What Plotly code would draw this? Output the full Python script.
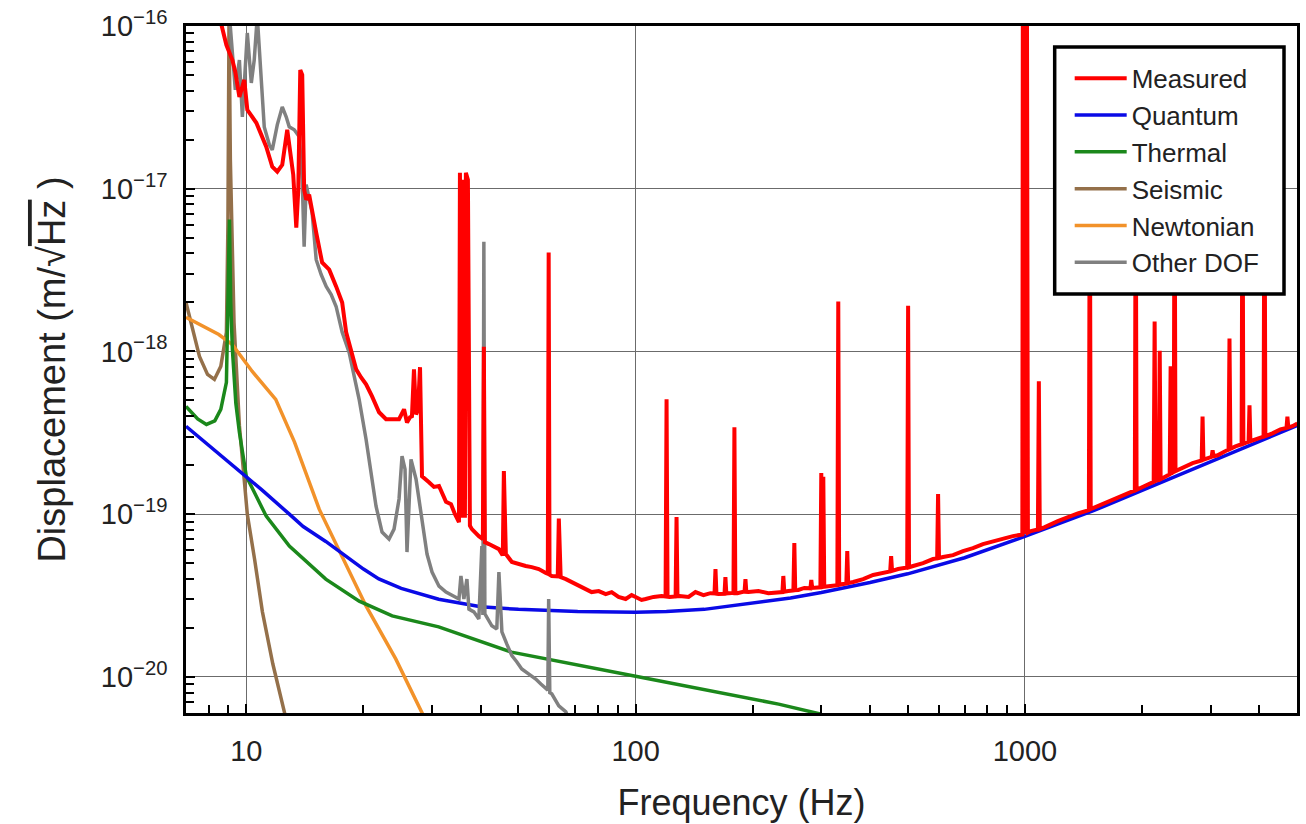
import numpy as np
import plotly.graph_objects as go

# Amplitude spectral densities are listed in units of 1e-20 m/sqrt(Hz)
UNIT = 1e-20

measured_freq = [
    8.45, 8.89, 9.21, 9.37, 9.60, 9.88, 10.06, 10.61, 11.25, 11.66, 12.01, 12.37, 12.74, 12.97, 13.20,
    13.44, 13.60, 13.76, 13.92, 14.08, 14.25, 14.50, 14.76, 15.12, 15.66, 16.33, 17.01, 17.63, 18.05,
    18.59, 19.15, 19.72, 20.31, 21.04, 21.93, 22.86, 23.68, 24.68, 25.42, 25.87, 26.33, 26.64, 26.96,
    27.29, 27.61, 27.94, 28.27, 28.94, 29.46, 30.34, 31.26, 32.58, 33.56, 34.36, 35.18, 35.38, 35.80,
    36.01, 36.44, 36.65, 37.09, 37.53, 37.97, 39.57, 40.52, 40.76, 41.00, 42.00, 43.25, 44.55, 45.35,
    45.60, 45.88, 46.15, 46.42, 48.10, 50.1, 52.2, 54.1, 56.4, 58.8, 59.5, 59.8, 60.1, 60.9, 63.1, 63.5,
    63.9, 64.2, 66.2, 68.5, 71.4, 74.4, 77.1, 80.4, 83.8, 86.8, 90.4, 94.3, 97.7, 100.0, 103.6, 106.1,
    111.2, 116.6, 119.4, 120.1, 120.8, 122.2, 126.7, 127.4, 128.1, 129.7, 136.8, 142.5, 149.4, 155.7,
    159.5, 160.4, 161.3, 163.2, 169.2, 170.1, 171.0, 173.2, 178.4, 179.4, 180.4, 182.6, 189.2, 190.5,
    191.5, 192.5, 194.9, 206.8, 219.3, 232.7, 238.3, 239.6, 240.9, 246.8, 254.3, 255.7, 257.1, 261.8,
    271.3, 281.2, 282.7, 284.2, 291.2, 298.3, 299.9, 301.7, 303.5, 305.2, 312.6, 329.8, 331.6, 333.4,
    341.5, 347.8, 349.7, 351.6, 362.2, 384.2, 407.6, 432.4, 450.8, 453.3, 455.8, 472.5, 498.5, 501.2,
    503.9, 516.2, 547.6, 580.9, 595.2, 598.4, 601.7, 616.3, 653.8, 693.4, 735.6, 780.3, 827.8, 878.2,
    931.5, 985, 988, 994, 1000, 1006, 1012, 1018, 1036, 1080, 1086, 1092, 1125, 1215, 1289, 1368,
    1460, 1468, 1476, 1539, 1662, 1784, 1916, 1926, 1936, 2031, 2142, 2154, 2166, 2208, 2220, 2232,
    2286, 2355, 2368, 2381, 2411, 2424, 2437, 2542, 2697, 2845, 2860, 2875, 2946, 3019, 3035, 3051,
    3126, 3257, 3336, 3354, 3372, 3475, 3603, 3622, 3641, 3755, 3775, 3795, 3910, 4103, 4125, 4147,
    4324, 4533, 4699, 4724, 4749, 4867, 5012,
]
measured_asd = [
    12500, 7640, 6180, 5220, 3665, 4667, 3055, 2541, 1811, 1365, 1271, 1403, 2301, 1734, 1219,
    577, 986, 5370, 5000, 986, 857, 919, 713, 537, 352, 318, 251, 200, 131,
    98.6, 77.6, 69.2, 62.8, 53.0, 42.3, 38.3, 38.3, 38.3, 44.1, 36.6, 39.4, 40.0, 77.6,
    41.0, 44.0, 80.0, 17.1, 16.4, 15.7, 14.7, 14.9, 11.9, 11.5, 10.0, 8.93, 1253, 9.5,
    1135, 9.5, 1253, 1135, 8.5, 8.09, 7.33, 7.03, 107, 6.73, 6.55, 6.28, 6.10, 5.69,
    5.70, 18.4, 5.70, 5.69, 5.08, 4.93, 4.80, 4.73, 4.60, 4.35, 4.30, 405, 4.25, 4.17, 4.15, 9.4,
    4.12, 4.10, 3.99, 3.83, 3.61, 3.47, 3.32, 3.37, 3.23, 3.32, 3.10, 3.01, 3.18, 3.10, 2.97, 3.01,
    3.10, 3.14, 3.12, 50.8, 3.11, 3.10, 3.12, 9.6, 3.13, 3.14, 3.10, 3.32, 3.18, 3.27,
    3.26, 4.60, 3.24, 3.23, 3.24, 4.10, 3.26, 3.27, 3.28, 34.2, 3.27, 3.27, 3.37, 3.35,
    3.99, 3.33, 3.32, 3.37, 3.27, 3.32, 3.32, 4.17, 3.34, 3.37, 3.40, 6.64, 3.41, 3.42,
    3.52, 3.50, 3.94, 3.52, 3.56, 3.55, 17.9, 3.47, 17.0, 3.58, 3.61, 3.66, 203, 3.68,
    3.72, 3.75, 5.93, 3.77, 3.83, 3.99, 4.23, 4.35, 4.45, 5.52, 4.48, 4.60, 4.70, 191,
    4.72, 4.80, 5.00, 5.30, 5.35, 13.3, 5.38, 5.45, 5.60, 5.93, 6.18, 6.55, 6.82, 7.03,
    7.33, 7.50, 20000, 7.55, 20000, 7.60, 20000, 7.70, 7.87, 8.05, 65.5, 8.10, 8.32, 9.06, 9.60, 10.1,
    10.6, 1734, 10.75, 11.2, 12.0, 12.9, 14.0, 1734, 14.1, 14.9, 15.8, 153, 16.0, 16.3, 101, 16.4,
    16.9, 17.6, 81, 17.8, 18.2, 1734, 18.4, 19.4, 20.6, 21.4, 39.8, 21.6, 22.1, 22.5, 24.7, 22.7,
    23.0, 24.4, 25.0, 120, 25.2, 26.1, 26.9, 1734, 27.1, 27.9, 46.7, 28.1, 28.8, 30.0, 1734, 30.2,
    31.4, 33.2, 33.9, 39.8, 34.1, 34.7, 36.1,
]

quantum_freq = [7.0, 8.0, 9.0, 10.0, 11.0, 12.9, 14.0, 16.0, 18.0, 20.0, 21.9, 25.0, 31.2, 40.0, 50.0,
                71.0, 100.0, 120.0, 150.0, 200.0, 250.0, 300.0, 400.0, 500.0, 700.0, 1000.0, 1500.0,
                2000.0, 3000.0, 4000.0, 5000.0]
quantum_asd = [34.7, 26.6, 21.0, 17.1, 14.0, 10.0, 8.4, 6.8, 5.5, 4.6, 4.0, 3.5, 3.0, 2.7, 2.6,
               2.52, 2.5, 2.52, 2.6, 2.85, 3.05, 3.3, 3.8, 4.3, 5.4, 7.3, 10.5,
               14.0, 21.0, 28.0, 35.0]

thermal_freq = [7.0, 7.5, 7.9, 8.3, 8.6, 8.89, 8.97, 9.05, 9.12, 9.21, 9.4, 9.6, 10.0, 11.25, 12.9,
                16.0, 19.5, 23.7, 31.2, 48.0, 100.0, 233.0, 300.0]
thermal_asd = [46.0, 38.5, 35.6, 37.5, 44.1, 64.6, 200, 646, 200, 102.8, 48.0, 31.9, 17.1, 9.72, 6.37,
               3.99, 2.92, 2.37, 2.03, 1.42, 1.01, 0.68, 0.59]

seismic_freq = [7.0, 7.27, 7.58, 7.95, 8.28, 8.6, 8.89, 8.97, 9.03, 9.1, 9.3, 9.6, 9.88, 10.06, 10.5,
                11.0, 11.7, 12.5, 13.0]
seismic_asd = [200, 136, 93.1, 72.3, 67.3, 81.0, 131, 600, 12000, 1500, 150, 35.0, 17.0, 10.0, 5.3,
               2.51, 1.2, 0.61, 0.42]

newtonian_freq = [7.0, 8.5, 9.21, 10.36, 11.9, 13.3, 15.4, 18.05, 20.3, 24.2, 28.3, 30.0]
newtonian_asd = [162, 127, 110, 75.3, 50.8, 27.7, 10.7, 4.80, 2.73, 1.29, 0.61, 0.45]

other_freq = [
    8.95, 9.10, 9.37, 9.60, 9.77, 10.06, 10.30, 10.48, 10.67, 10.93, 11.12, 11.46, 11.66, 12.01, 12.37,
    12.66, 12.89, 13.28, 13.68, 13.92, 14.08, 14.25, 14.50, 14.76, 15.12, 15.57, 16.04, 16.52, 17.01,
    17.63, 18.37, 18.92, 19.49, 20.31, 20.92, 21.54, 22.32, 23.26, 23.96, 24.68, 25.12, 25.57, 25.87,
    26.18, 26.49, 27.29, 28.27, 29.12, 30.0, 31.26, 32.58, 34.15, 35.18, 35.59, 36.22, 36.87, 37.31,
    38.42, 39.57, 40.28, 40.52, 40.76, 41.0, 42.73, 44.0, 44.55, 45.35, 46.7, 48.10, 49.5, 51.0, 53.2,
    55.4, 57.1, 58.8, 59.5, 59.8, 60.2, 60.9, 63.5, 66.2, 68.1,
]
other_asd = [
    12000, 9860, 4050, 6180, 2767, 9060, 4467, 6180, 11500, 4667, 2399, 1862, 1734, 2470, 3185,
    2767, 2399, 2301, 2084, 1135, 441, 1059, 857, 713, 366, 297, 251, 224, 189,
    131, 98.6, 70.3, 50.8, 28.8, 17.6, 11.2, 7.76, 7.03, 8.09, 12.4, 22.7, 18.9, 5.85,
    12.4, 21.7, 16.4, 9.31, 5.69, 4.41, 3.61, 3.32, 3.14, 3.01, 4.17, 3.01, 3.99, 2.61,
    2.51, 2.27, 6.37, 2.40, 473, 2.44, 2.06, 1.97, 4.41, 1.89, 1.59, 1.35, 1.24, 1.12, 1.04,
    0.97, 0.905, 0.844, 0.83, 3.01, 0.80, 0.787, 0.664, 0.61, 0.515,
]

x_tick_vals = [10, 100, 1000]
x_tick_text = ["10", "100", "1000"]
y_tick_vals = [1e-20, 1e-19, 1e-18, 1e-17, 1e-16]
y_tick_text = ["10<sup>−20</sup>", "10<sup>−19</sup>", "10<sup>−18</sup>",
               "10<sup>−17</sup>", "10<sup>−16</sup>"]

x_minor = [m * 10 ** p for p in range(0, 4) for m in range(2, 10) if 7 <= m * 10 ** p <= 5000]
y_minor = [m * 10.0 ** p for p in range(-21, -16) for m in range(2, 10)
           if 6e-21 <= m * 10.0 ** p <= 1e-16]

# (name, freqs, asd, colour, width, legend rank); listed in drawing order
curves = [
    ("Seismic", seismic_freq, seismic_asd, "#94704a", 3.5, 4),
    ("Newtonian", newtonian_freq, newtonian_asd, "#f2922a", 3.5, 5),
    ("Thermal", thermal_freq, thermal_asd, "#1b881b", 3.5, 3),
    ("Quantum", quantum_freq, quantum_asd, "#0a0ae6", 3.5, 2),
    ("Other DOF", other_freq, other_asd, "#808080", 3.5, 6),
    ("Measured", measured_freq, measured_asd, "#ff0000", 4, 1),
]

fig = go.Figure()
for name, fx, fy, colour, width, rank in curves:
    fig.add_trace(go.Scatter(
        x=fx, y=[v * UNIT for v in fy], mode="lines", name=name,
        line=dict(color=colour, width=width), legendrank=rank, hoverinfo="skip",
    ))

axis_common = dict(
    type="log", showline=True, linecolor="black", linewidth=2.5, mirror=True,
    ticks="inside", ticklen=9, tickwidth=1.5, tickcolor="black",
    showgrid=True, gridcolor="#6b6b6b", gridwidth=1, zeroline=False,
    tickfont=dict(size=29, color="#222"),
)

fig.update_xaxes(
    **axis_common,
    range=[np.log10(7), np.log10(5000)],
    tickmode="array", tickvals=x_tick_vals, ticktext=x_tick_text,
    minor=dict(tickmode="array", tickvals=x_minor, ticks="inside", ticklen=8,
               tickwidth=1.5, tickcolor="black", showgrid=False),
    ticklabelstandoff=10,
    title=dict(text="Frequency (Hz)", font=dict(size=36, color="#222"), standoff=25),
)
fig.update_yaxes(
    **axis_common,
    range=[np.log10(6e-21), -16],
    tickmode="array", tickvals=y_tick_vals, ticktext=y_tick_text,
    minor=dict(tickmode="array", tickvals=y_minor, ticks="inside", ticklen=8,
               tickwidth=1.5, tickcolor="black", showgrid=False),
    ticklabelstandoff=10,
    title=dict(text="Displacement (m/√<span style='text-decoration:overline'>Hz</span> )",
               font=dict(size=38, color="#222"), standoff=24),
)

# Framed white panel behind the legend entries
fig.add_shape(
    type="rect", xref="paper", yref="paper",
    x0=0.7819, x1=0.9883, y0=0.6099, y1=0.9694,
    line=dict(color="black", width=3.5), fillcolor="white", layer="above",
)

fig.update_layout(
    width=1306, height=824,
    margin=dict(l=186, r=6, t=26, b=111),
    paper_bgcolor="white", plot_bgcolor="white",
    font=dict(family="Liberation Sans, Arial, sans-serif", size=28, color="#222"),
    showlegend=True,
    legend=dict(x=0.7954, y=0.958, xanchor="left", yanchor="top",
                bgcolor="rgba(255,255,255,0)", borderwidth=0,
                font=dict(size=26, color="#222"), itemwidth=52),
)

fig.write_html("out.html")
